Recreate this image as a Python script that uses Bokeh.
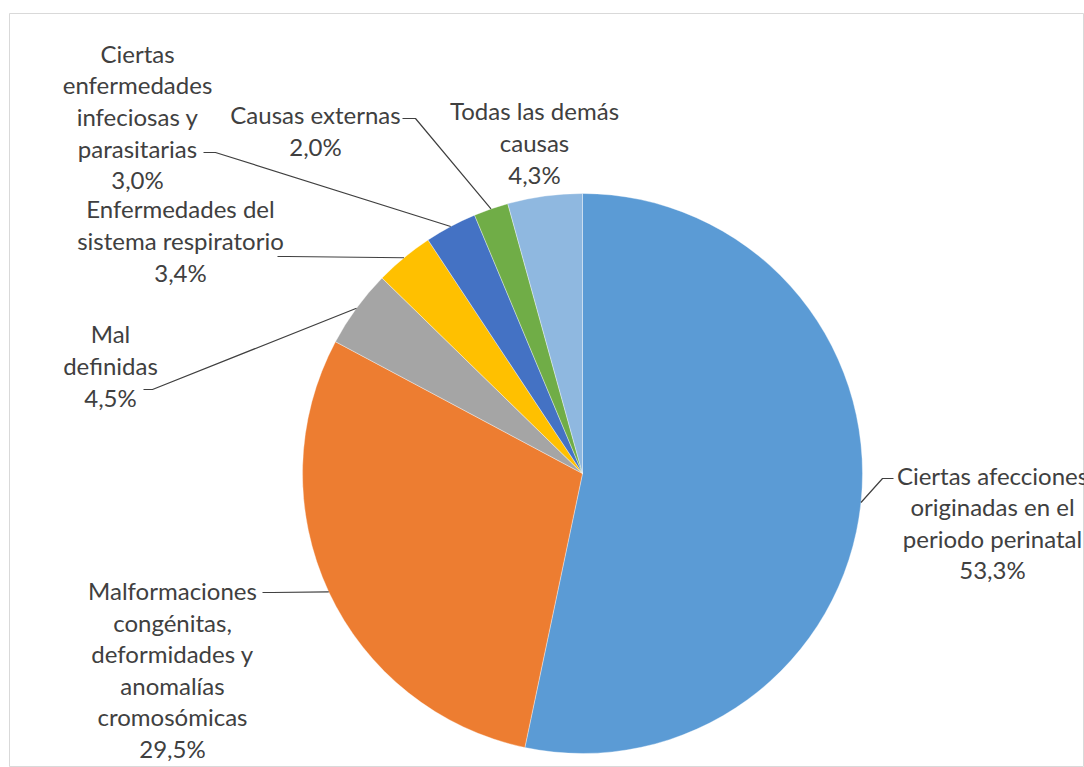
import math
from bokeh.plotting import figure
from bokeh.models import Range1d
from bokeh.core.properties import value
from bokeh.embed import file_html
from bokeh.resources import INLINE

# ---- data ----
categories = [
    "Ciertas afecciones\noriginadas en el\nperiodo perinatal",
    "Malformaciones\ncongénitas,\ndeformidades y\nanomalías\ncromosómicas",
    "Mal\ndefinidas",
    "Enfermedades del\nsistema respiratorio",
    "Ciertas\nenfermedades\ninfeciosas y\nparasitarias",
    "Causas externas",
    "Todas las demás\ncausas",
]
shares = [53.3, 29.5, 4.5, 3.4, 3.0, 2.0, 4.3]
pct_labels = ["53,3%", "29,5%", "4,5%", "3,4%", "3,0%", "2,0%", "4,3%"]

# ---- styles ----
colors = ["#5B9BD5", "#ED7D31", "#A5A5A5", "#FFC000", "#4472C4", "#70AD47", "#8FB8E0"]
FONT = "Lato"
TEXT_COLOR = "#404040"

# ---- layout (pixel geometry of the reference) ----
W, H = 1084, 767
CX, CY, R = 582, 473, 280          # pie centre / radius in page pixels
FL, FT, FR, FB = 9, 13, 1084, 767  # frame edges in page pixels


def px(x, y):
    """page pixel -> data units (pie radius = 1)"""
    return (x - CX) / R, (CY - y) / R


# label block centres (page px)
label_centres = [(992, 522), (172, 669), (110, 365), (180, 240), (137, 116), (315, 130), (534, 142)]
# leader line: label end, elbow (page px); None = no leader
leader_ends = [
    ((893, 478), (882, 478)),
    ((262, 592), (272, 592)),
    ((143, 389), (152, 389)),
    ((277, 256), (287, 256)),
    ((203, 152), (215, 152)),
    ((402, 118), (415, 118)),
    None,
]

p = figure(
    width=W, height=H, output_backend="svg", toolbar_location=None,
    x_axis_type=None, y_axis_type=None,
    x_range=Range1d(*[(v - CX) / R for v in (FL, FR)]),
    y_range=Range1d((CY - FB) / R, (CY - FT) / R),
    min_border_left=FL, min_border_top=FT, min_border_right=0, min_border_bottom=0,
)
p.grid.visible = False
p.outline_line_color = "#D9D9D9"
p.outline_line_width = 1
p.background_fill_color = "white"
p.border_fill_color = "white"

total = sum(shares)
starts, ends, mids = [], [], []
cum = 0.0
for s in shares:
    a0 = math.pi / 2 - cum / total * 2 * math.pi
    cum += s
    a1 = math.pi / 2 - cum / total * 2 * math.pi
    starts.append(a0)
    ends.append(a1)
    mids.append((a0 + a1) / 2)

p.wedge(x=0, y=0, radius=1, start_angle=starts, end_angle=ends, direction="clock",
        fill_color=colors, line_color="white", line_width=0.6, line_alpha=0.6)

# leader lines
for i, le in enumerate(leader_ends):
    if le is None:
        continue
    (ex, ey), (bx, by) = le
    x0, y0 = px(ex, ey)
    x1, y1 = px(bx, by)
    x2, y2 = math.cos(mids[i]), math.sin(mids[i])
    p.line([x0, x1, x2], [y0, y1, y2], line_color="#404040", line_width=1.2)

# labels
txt = [c + "\n" + v for c, v in zip(categories, pct_labels)]
lx = [px(*c)[0] for c in label_centres]
ly = [px(*c)[1] for c in label_centres]
p.text(x=lx, y=ly, text=txt, text_align="center", text_baseline="middle",
       text_font=value(FONT), text_font_size="24px", text_color=TEXT_COLOR,
       text_line_height=1.09)

open("out.html", "w").write(file_html(p, INLINE))
